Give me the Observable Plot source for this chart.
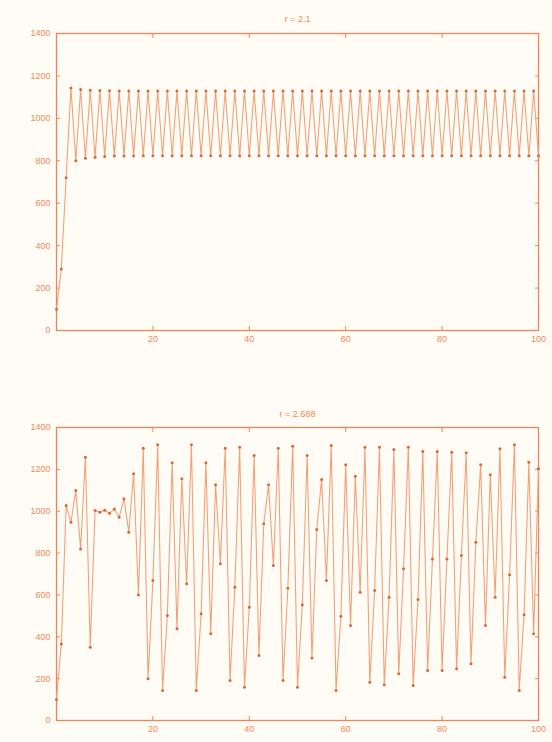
<!DOCTYPE html>
<html>
<head>
<meta charset="utf-8">
<script src="https://cdn.jsdelivr.net/npm/d3@7"></script>
<script src="https://cdn.jsdelivr.net/npm/@observablehq/plot@0.6"></script>
<style>
  html, body { margin: 0; padding: 0; background: #fffcf6; }
  #chart { width: 552px; height: 742px; }
  #chart svg { display: block; }
</style>
</head>
<body>
<div id="chart"></div>
<script>
// ---- data ----
const titles = ["r = 2.1", "r = 2.688"];
const xTicks = [20, 40, 60, 80, 100];
const yTicks = [0, 200, 400, 600, 800, 1000, 1200, 1400];

const seriesA = [
  100, 290, 720, 1143, 800, 1136, 812, 1133, 817, 1131,
  820, 1130, 822, 1129, 823, 1129, 823, 1129, 824, 1129,
  824, 1129, 824, 1129, 824, 1129, 824, 1129, 824, 1129,
  824, 1129, 824, 1129, 824, 1129, 824, 1129, 824, 1129,
  824, 1129, 824, 1129, 824, 1129, 824, 1129, 824, 1129,
  824, 1129, 824, 1129, 824, 1129, 824, 1129, 824, 1129,
  824, 1129, 824, 1129, 824, 1129, 824, 1129, 824, 1129,
  824, 1129, 824, 1129, 824, 1129, 824, 1129, 824, 1129,
  824, 1129, 824, 1129, 824, 1129, 824, 1129, 824, 1129,
  824, 1129, 824, 1129, 824, 1129, 824, 1129, 824, 1129,
  824
];

const seriesB = [
  100, 366, 1027, 947, 1099, 820, 1258, 350, 1003, 995,
  1005, 990, 1010, 971, 1060, 900, 1179, 600, 1301, 199,
  669, 1317, 143, 502, 1231, 438, 1155, 653, 1317, 143,
  510, 1231, 414, 1126, 749, 1301, 191, 637, 1306, 159,
  541, 1266, 311, 940, 1126, 741, 1301, 191, 632, 1311,
  159, 553, 1266, 299, 913, 1152, 669, 1314, 143, 498,
  1222, 454, 1167, 613, 1306, 183, 621, 1306, 171, 589,
  1295, 223, 725, 1306, 167, 578, 1285, 239, 772, 1285,
  239, 772, 1282, 247, 788, 1279, 271, 852, 1222, 454,
  1174, 589, 1298, 207, 696, 1317, 143, 505, 1234, 414,
  1203
];

const ink = "#ec8a5c";
const lineCol = "#f2a27a";
const dotCol = "#d8683a";
const frameCol = "#e9865a";
const blank = () => "";

function panel(values, title, opts) {
  const data = values.map((v, i) => ({t: i, n: v}));
  return Plot.plot({
    width: 552,
    height: opts.height,
    marginLeft: 56,
    marginRight: 14,
    marginTop: opts.marginTop,
    marginBottom: opts.marginBottom,
    style: {background: "transparent", fontFamily: "'Liberation Sans', Arial, sans-serif", fontSize: "9px", color: ink},
    x: {domain: [0, 100]},
    y: {domain: [0, 1400]},
    marks: [
      Plot.frame({stroke: frameCol, strokeWidth: 1.3}),
      Plot.axisX({ticks: xTicks, tickSize: -4, tickPadding: 9, tickFormat: d => String(d), stroke: frameCol, fill: ink, label: null}),
      Plot.axisX({ticks: xTicks, anchor: "top", tickSize: -4, tickFormat: blank, stroke: frameCol, label: null}),
      Plot.axisY({ticks: yTicks, tickSize: -4, tickPadding: 10, tickFormat: d => String(d), stroke: frameCol, fill: ink, label: null}),
      Plot.axisY({ticks: yTicks, anchor: "right", tickSize: -4, tickFormat: blank, stroke: frameCol, label: null}),
      Plot.line(data, {x: "t", y: "n", stroke: lineCol, strokeWidth: 1.1}),
      Plot.dot(data, {x: "t", y: "n", r: 1.5, fill: dotCol, stroke: "none"}),
      Plot.text([title], {frameAnchor: "top", dy: opts.titleDy, fill: ink, fontSize: 9})
    ]
  });
}

const root = document.getElementById("chart");
root.appendChild(panel(seriesA, titles[0], {height: 371, marginTop: 33, marginBottom: 41, titleDy: -18}));
root.appendChild(panel(seriesB, titles[1], {height: 371, marginTop: 56, marginBottom: 22, titleDy: -17}));
</script>
</body>
</html>
